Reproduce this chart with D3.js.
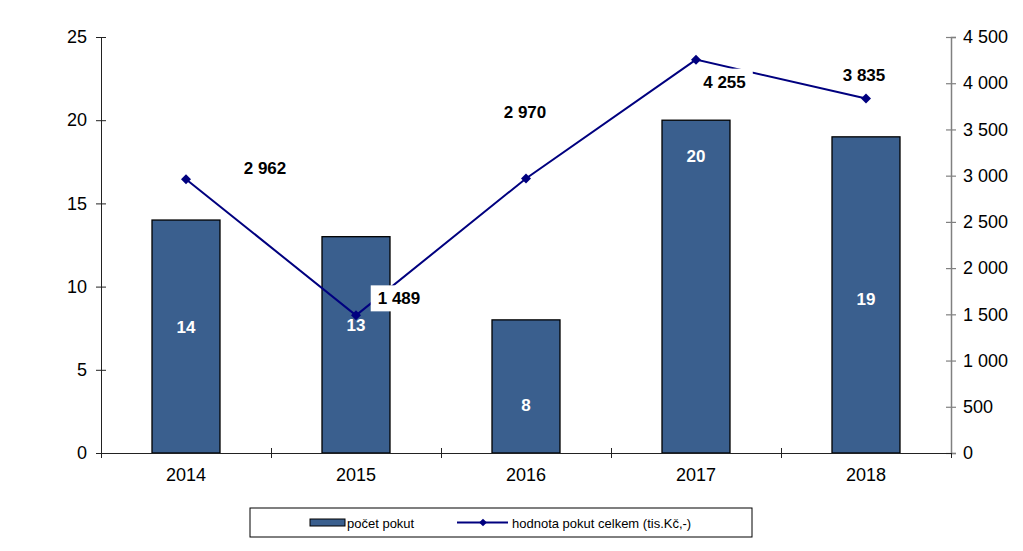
<!DOCTYPE html>
<html>
<head>
<meta charset="utf-8">
<script src="https://cdn.jsdelivr.net/npm/d3@7"></script>
<style>
  body { margin: 0; background: #fff; }
  svg { font-family: "Liberation Sans", Arial, sans-serif; }
  .axis text { font-size: 18px; fill: #000; }
  .bar-label { font-size: 17px; font-weight: bold; fill: #fff; }
  .line-label { font-size: 17px; font-weight: bold; fill: #000; }
  .legend text { font-size: 13px; fill: #000; }
</style>
</head>
<body>
<svg id="chart" width="1023" height="551"></svg>
<script>
// data
const years = ["2014", "2015", "2016", "2017", "2018"];
const finesCount = [14, 13, 8, 20, 19];
const finesValue = [2962, 1489, 2970, 4255, 3835];
const leftTicks = [0, 5, 10, 15, 20, 25];
const rightTicks = [0, 500, 1000, 1500, 2000, 2500, 3000, 3500, 4000, 4500];
const seriesNames = ["počet pokut", "hodnota pokut celkem (tis.Kč,-)"];

// where the labels sit (as moved by hand in the original)
const barLabelLevel = [7.56, 7.66, 2.9, 17.87, 9.27];
const lineLabelNudge = [[79, -11.5], [43, -17], [-1, -66], [28.5, 22], [-2, -23]];

const barColor = "#3a5f8e";
const lineColor = "#00007f";

const margin = { top: 37, right: 72, bottom: 98, left: 101 };
const svg = d3.select("#chart");
const width = 1023 - margin.left - margin.right;
const height = 551 - margin.top - margin.bottom;
const g = svg.append("g").attr("transform", `translate(${margin.left},${margin.top})`);

const x = d3.scaleBand().domain(years).range([0, width]).padding(0);
const xEdge = d3.scaleLinear().domain([0, years.length]).range([0, width]);
const yLeft = d3.scaleLinear().domain([0, 25]).range([height, 0]);
const yRight = d3.scaleLinear().domain([0, 4500]).range([height, 0]);
const spaceFmt = d => d3.format(",")(d).replace(/,/g, " ");
const marker = d3.symbol(d3.symbolSquare, 50);

// bars
const barW = x.bandwidth() * 0.4;
g.append("g").selectAll("rect")
  .data(finesCount)
  .join("rect")
  .attr("x", (d, i) => x(years[i]) + (x.bandwidth() - barW) / 2)
  .attr("y", d => yLeft(d))
  .attr("width", barW)
  .attr("height", d => height - yLeft(d))
  .attr("fill", barColor)
  .attr("stroke", "#000")
  .attr("stroke-width", 1.3);

// left axis
const leftG = g.append("g").attr("class", "axis")
  .call(d3.axisLeft(yLeft).tickValues(leftTicks).tickSize(5).tickPadding(9));
leftG.select(".domain").attr("stroke", "#222");
leftG.selectAll(".tick line").attr("x2", 5).attr("x1", -5).attr("stroke", "#222");

// right axis
const rightG = g.append("g").attr("class", "axis")
  .attr("transform", `translate(${width},0)`)
  .call(d3.axisRight(yRight).tickValues(rightTicks).tickFormat(spaceFmt).tickSize(5).tickPadding(7));
rightG.select(".domain").attr("stroke", "#808080").attr("stroke-width", 1.5);
rightG.selectAll(".tick line").attr("x1", -5).attr("stroke", "#808080").attr("stroke-width", 1.2);

// bottom axis: ticks between categories, labels centred
const xTickG = g.append("g").attr("class", "axis")
  .attr("transform", `translate(0,${height})`)
  .call(d3.axisBottom(xEdge).tickValues(d3.range(years.length + 1)).tickFormat("").tickSize(5));
xTickG.select(".domain").attr("stroke", "#222");
xTickG.selectAll(".tick line").attr("y1", -5).attr("stroke", "#222");
xTickG.selectAll(".tick").filter((d, i) => i === 0 || i === years.length).select("line").attr("y1", 0);

const xLabG = g.append("g").attr("class", "axis")
  .attr("transform", `translate(0,${height})`)
  .call(d3.axisBottom(x).tickSize(0).tickPadding(15));
xLabG.select(".domain").remove();

// bar value labels
g.append("g").selectAll("text")
  .data(finesCount)
  .join("text")
  .attr("class", "bar-label")
  .attr("x", (d, i) => x(years[i]) + x.bandwidth() / 2)
  .attr("y", (d, i) => yLeft(barLabelLevel[i]))
  .attr("dy", "0.35em")
  .attr("text-anchor", "middle")
  .text(d => d);

// line
const pts = finesValue.map((v, i) => [x(years[i]) + x.bandwidth() / 2, yRight(v)]);
g.append("path")
  .datum(pts)
  .attr("fill", "none")
  .attr("stroke", lineColor)
  .attr("stroke-width", 2)
  .attr("d", d3.line());

g.append("g").selectAll("path")
  .data(pts)
  .join("path")
  .attr("transform", d => `translate(${d[0]},${d[1]}) rotate(45)`)
  .attr("d", marker)
  .attr("fill", lineColor);

// line value labels (white background boxes)
const lab = g.append("g").selectAll("g")
  .data(finesValue)
  .join("g")
  .attr("transform", (d, i) => `translate(${pts[i][0] + lineLabelNudge[i][0]},${pts[i][1] + lineLabelNudge[i][1]})`);
const labRect = lab.append("rect").attr("fill", "#fff");
const labText = lab.append("text")
  .attr("class", "line-label")
  .attr("text-anchor", "middle")
  .attr("dy", "0.35em")
  .text(d => spaceFmt(d));
labText.each(function(d, i) {
  const w = this.getComputedTextLength() + 14;
  d3.select(labRect.nodes()[i])
    .attr("x", -w / 2).attr("y", -13).attr("width", w).attr("height", 26);
});

// legend
const legend = svg.append("g").attr("class", "legend").attr("transform", "translate(250,508)");
legend.append("rect")
  .attr("width", 502).attr("height", 29)
  .attr("fill", "#fff").attr("stroke", "#000").attr("stroke-width", 1);
legend.append("rect")
  .attr("x", 60).attr("y", 11).attr("width", 35).attr("height", 7)
  .attr("fill", barColor).attr("stroke", "#000").attr("stroke-width", 1);
legend.append("text").attr("x", 97).attr("y", 15).attr("dy", "0.35em").text(seriesNames[0]);
legend.append("line")
  .attr("x1", 207).attr("x2", 258).attr("y1", 14.5).attr("y2", 14.5)
  .attr("stroke", lineColor).attr("stroke-width", 2);
legend.append("path")
  .attr("transform", "translate(233,14.5) rotate(45)")
  .attr("d", d3.symbol(d3.symbolSquare, 30))
  .attr("fill", lineColor);
legend.append("text").attr("x", 262).attr("y", 15).attr("dy", "0.35em").text(seriesNames[1]);
</script>
</body>
</html>
